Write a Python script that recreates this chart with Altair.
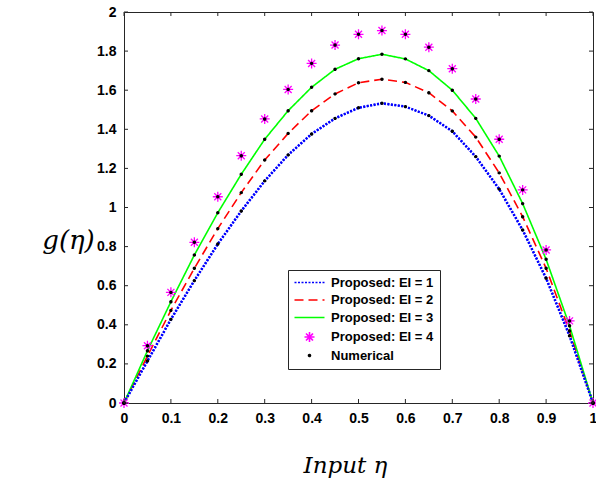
import altair as alt
import pandas as pd

# ---- data ----
eta = [0.0, 0.05, 0.1, 0.15, 0.2, 0.25, 0.3, 0.35, 0.4, 0.45, 0.5,
       0.55, 0.6, 0.65, 0.7, 0.75, 0.8, 0.85, 0.9, 0.95, 1.0]
g_ei1 = [0, 0.215, 0.428, 0.626, 0.813, 0.982, 1.136, 1.269, 1.376, 1.456, 1.510,
         1.533, 1.516, 1.470, 1.390, 1.260, 1.094, 0.885, 0.638, 0.344, 0]
g_ei2 = [0, 0.240, 0.474, 0.689, 0.892, 1.076, 1.243, 1.379, 1.495, 1.581, 1.638,
         1.656, 1.640, 1.587, 1.494, 1.360, 1.177, 0.953, 0.689, 0.368, 0]
g_ei3 = [0, 0.267, 0.518, 0.757, 0.973, 1.170, 1.349, 1.495, 1.615, 1.707, 1.761,
         1.784, 1.760, 1.700, 1.600, 1.456, 1.263, 1.020, 0.735, 0.395, 0]
g_ei4 = [0, 0.293, 0.566, 0.822, 1.055, 1.265, 1.453, 1.604, 1.737, 1.831, 1.886,
         1.905, 1.886, 1.820, 1.710, 1.555, 1.349, 1.090, 0.783, 0.420, 0]

series_names = ["Proposed: EI = 1", "Proposed: EI = 2", "Proposed: EI = 3",
                "Proposed: EI = 4", "Numerical"]
series_colors = ["#0000ff", "#ff0000", "#00ff00", "#ff00ff", "#000000"]
x_ticks = [0, 0.1, 0.2, 0.3, 0.4, 0.5, 0.6, 0.7, 0.8, 0.9, 1]
y_ticks = [0, 0.2, 0.4, 0.6, 0.8, 1, 1.2, 1.4, 1.6, 1.8, 2]

# ---- tables ----
curves = [g_ei1, g_ei2, g_ei3, g_ei4]
rows = []
for name, vals in zip(series_names[:4], curves):
    for e, v in zip(eta, vals):
        rows.append({"eta": e, "g": v, "series": name})
df_all = pd.DataFrame(rows)
df_lines = df_all[df_all.series.isin(series_names[:3])]
df_star = df_all[df_all.series == series_names[3]]
df_num = df_all.copy()
df_num["series"] = "Numerical"
df_xt = pd.DataFrame({"eta": x_ticks})
df_yt = pd.DataFrame({"g": y_ticks})

W, H = 469, 391
TICK = "#262626"
line_path = "M-3,0L3,0"
star_path = "M-1,0L1,0M0,-1L0,1M-0.7,-0.7L0.7,0.7M-0.7,0.7L0.7,-0.7"
dot_path = "M-0.2,0A0.2,0.2 0 1,0 0.2,0A0.2,0.2 0 1,0 -0.2,0Z"

legend = alt.Legend(title=None, orient="none", legendX=164, legendY=258,
                    direction="vertical", labelFont="Liberation Sans",
                    labelFontWeight="bold", labelFontSize=13, labelColor="black",
                    strokeColor="#262626", fillColor="white", padding=6,
                    rowPadding=3.5, symbolOffset=9, labelOffset=15,
                    symbolSize=100, symbolStrokeWidth=1.6, labelLimit=300)

color_scale = alt.Scale(domain=series_names, range=series_colors)
dash_scale = alt.Scale(domain=series_names,
                       range=[[2, 1.5], [9, 5], [1, 0], [1, 0], [1, 0]])
shape_scale = alt.Scale(domain=series_names,
                        range=[line_path, line_path, line_path, star_path, dot_path])

xs = alt.Scale(domain=[0, 1], nice=False, zero=False)
ys = alt.Scale(domain=[0, 2], nice=False, zero=False)

x_axis = alt.Axis(values=x_ticks, format="~g", domain=False, ticks=False, grid=False,
                  labelOverlap=False, labelFlush=False,
                  labelFont="Liberation Sans", labelFontWeight="bold", labelFontSize=14,
                  labelColor="black", labelPadding=8, title="Input η",
                  titleFont="DejaVu Serif", titleFontStyle="italic", titleFontWeight="normal",
                  titleFontSize=23, titleColor="black", titleX=221, titleY=69,
                  titleAlign="center", titleBaseline="alphabetic")
y_axis = alt.Axis(values=y_ticks, format="~g", domain=False, ticks=False, grid=False,
                  labelOverlap=False, labelFlush=False,
                  labelFont="Liberation Sans", labelFontWeight="bold", labelFontSize=14,
                  labelColor="black", labelPadding=8, title="g(η)",
                  titleFont="DejaVu Serif", titleFontStyle="italic", titleFontWeight="normal",
                  titleFontSize=26, titleColor="black", titleAngle=0, titleX=-56, titleY=236,
                  titleAlign="center", titleBaseline="alphabetic")

X = alt.X("eta:Q", scale=xs, axis=x_axis)
Y = alt.Y("g:Q", scale=ys, axis=y_axis)

lines = alt.Chart(df_lines).mark_line(strokeWidth=1.6).encode(
    x=X, y=Y,
    color=alt.Color("series:N", scale=color_scale, legend=legend),
    strokeDash=alt.StrokeDash("series:N", scale=dash_scale, legend=legend),
)
blue_fix = alt.Chart(df_all[df_all.series == series_names[0]]).mark_line(
    strokeWidth=2.6, color="#0000ff", strokeDash=[2, 1.5]).encode(x=X, y=Y)

stars = alt.Chart(df_star).mark_point(filled=False, size=100, strokeWidth=1.3, opacity=1).encode(
    x=X, y=Y,
    color=alt.Color("series:N", scale=color_scale, legend=legend),
    shape=alt.Shape("series:N", scale=shape_scale, legend=legend),
)
dots = alt.Chart(df_num).mark_point(filled=True, size=100, stroke="black",
                                    strokeWidth=1.4, opacity=1).encode(
    x=X, y=Y,
    color=alt.Color("series:N", scale=color_scale, legend=legend),
    shape=alt.Shape("series:N", scale=shape_scale, legend=legend),
)

tick_bottom = alt.Chart(df_xt).mark_rule(color=TICK, strokeWidth=1).encode(
    x=X, y=alt.value(H), y2=alt.value(H - 4))
tick_top = alt.Chart(df_xt).mark_rule(color=TICK, strokeWidth=1).encode(
    x=X, y=alt.value(0), y2=alt.value(4))
tick_left = alt.Chart(df_yt).mark_rule(color=TICK, strokeWidth=1).encode(
    y=Y, x=alt.value(0), x2=alt.value(4))
tick_right = alt.Chart(df_yt).mark_rule(color=TICK, strokeWidth=1).encode(
    y=Y, x=alt.value(W), x2=alt.value(W - 4))

chart = alt.layer(
    lines, blue_fix, stars, dots,
    tick_bottom, tick_top, tick_left, tick_right,
).properties(
    width=W, height=H,
    autosize=alt.AutoSizeParams(type="none"),
    padding={"left": 124, "top": 12, "right": 3, "bottom": 79},
    background="white",
).configure_view(stroke=TICK, strokeWidth=1)

chart.save("out.html", embed_options={"renderer": "svg", "actions": False})
